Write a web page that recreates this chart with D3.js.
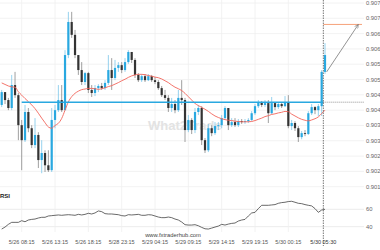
<!DOCTYPE html>
<html>
<head>
<meta charset="utf-8">
<script src="https://cdn.jsdelivr.net/npm/d3@7"></script>
<style>
  body { margin: 0; background: #fff; }
  svg { display: block; font-family: "Liberation Sans", Arial, sans-serif; }
</style>
</head>
<body>
<svg width="380" height="250"></svg>
<script>
// datos (velas de 30 min)
const firstOpen = 0.90367;
const closes = [0.90409,0.90383,0.90357,0.90432,0.90399,0.90301,0.90252,0.90344,0.90291,0.90236,
  0.90269,0.90187,0.90210,0.90170,0.90154,0.90318,0.90350,0.90383,0.90350,0.90530,
  0.90638,0.90596,0.90530,0.90481,0.90442,0.90471,0.90416,0.90406,0.90422,0.90429,
  0.90422,0.90439,0.90481,0.90455,0.90488,0.90497,0.90481,0.90507,0.90540,0.90514,
  0.90465,0.90448,0.90461,0.90448,0.90461,0.90448,0.90442,0.90422,0.90399,0.90390,
  0.90357,0.90370,0.90350,0.90390,0.90383,0.90285,0.90318,0.90285,0.90344,0.90357,
  0.90252,0.90219,0.90291,0.90275,0.90298,0.90301,0.90324,0.90357,0.90301,0.90311,
  0.90301,0.90314,0.90311,0.90314,0.90318,0.90340,0.90363,0.90376,0.90367,0.90373,
  0.90340,0.90373,0.90360,0.90370,0.90363,0.90376,0.90298,0.90308,0.90291,0.90262,
  0.90275,0.90272,0.90340,0.90360,0.90350,0.90363,0.90475,0.90530];
const highs = [0.90416,0.90409,0.90390,0.90465,0.90475,0.90406,0.90318,0.90367,0.90357,0.90301,
  0.90324,0.90278,0.90252,0.90219,0.90219,0.90357,0.90367,0.90432,0.90432,0.90546,
  0.90671,0.90671,0.90612,0.90530,0.90507,0.90475,0.90475,0.90432,0.90432,0.90435,
  0.90439,0.90448,0.90530,0.90520,0.90514,0.90507,0.90507,0.90520,0.90546,0.90540,
  0.90520,0.90471,0.90468,0.90468,0.90468,0.90465,0.90458,0.90448,0.90429,0.90416,
  0.90399,0.90390,0.90383,0.90416,0.90448,0.90390,0.90334,0.90324,0.90357,0.90367,
  0.90363,0.90259,0.90305,0.90301,0.90311,0.90311,0.90334,0.90363,0.90357,0.90324,
  0.90324,0.90321,0.90321,0.90321,0.90324,0.90347,0.90370,0.90383,0.90380,0.90383,
  0.90383,0.90393,0.90376,0.90376,0.90376,0.90396,0.90399,0.90318,0.90314,0.90298,
  0.90282,0.90285,0.90347,0.90370,0.90363,0.90370,0.90481,0.90569];
const lows = [0.90360,0.90370,0.90350,0.90350,0.90390,0.90252,0.90154,0.90246,0.90278,0.90226,
  0.90226,0.90161,0.90144,0.90148,0.90148,0.90148,0.90291,0.90344,0.90344,0.90350,
  0.90520,0.90586,0.90520,0.90465,0.90432,0.90432,0.90406,0.90393,0.90396,0.90409,
  0.90416,0.90416,0.90432,0.90416,0.90448,0.90475,0.90471,0.90475,0.90501,0.90504,
  0.90455,0.90442,0.90442,0.90442,0.90445,0.90442,0.90435,0.90416,0.90393,0.90383,
  0.90344,0.90344,0.90340,0.90344,0.90367,0.90246,0.90278,0.90272,0.90275,0.90334,
  0.90236,0.90210,0.90213,0.90265,0.90269,0.90285,0.90291,0.90318,0.90285,0.90295,
  0.90295,0.90295,0.90305,0.90305,0.90308,0.90314,0.90334,0.90357,0.90360,0.90360,
  0.90308,0.90337,0.90350,0.90354,0.90357,0.90360,0.90291,0.90285,0.90282,0.90246,
  0.90255,0.90265,0.90269,0.90334,0.90337,0.90331,0.90331,0.90468];
// media movil (linea roja)
const maValues = [0.90439,0.90434,0.90429,0.90426,0.90425,0.90410,0.90399,0.90388,0.90378,0.90367,
  0.90355,0.90340,0.90324,0.90309,0.90295,0.90291,0.90300,0.90307,0.90323,0.90350,
  0.90377,0.90394,0.90405,0.90412,0.90417,0.90419,0.90421,0.90421,0.90420,0.90418,
  0.90420,0.90423,0.90427,0.90430,0.90435,0.90440,0.90446,0.90451,0.90457,0.90462,
  0.90465,0.90467,0.90467,0.90466,0.90463,0.90461,0.90458,0.90456,0.90452,0.90446,
  0.90440,0.90432,0.90425,0.90420,0.90414,0.90405,0.90394,0.90383,0.90372,0.90365,
  0.90359,0.90353,0.90346,0.90338,0.90331,0.90326,0.90322,0.90319,0.90317,0.90316,
  0.90314,0.90313,0.90312,0.90312,0.90312,0.90313,0.90316,0.90320,0.90324,0.90329,
  0.90332,0.90336,0.90338,0.90341,0.90343,0.90346,0.90345,0.90337,0.90331,0.90325,
  0.90320,0.90317,0.90315,0.90318,0.90322,0.90328,0.90339,0.90350];
const rsiValues = [37.3,39.6,42.7,45,45,45,46.9,45.7,47.7,48.4,
  48.8,50,50.8,50.8,52.3,52.7,53.1,53.5,53.1,53.5,
  53.8,53.5,53.1,54.2,53.5,54.2,55.4,54.6,55.8,58.1,
  57.3,55,54.6,54.6,54.2,53.8,52.7,52.3,53.8,53.5,
  53.8,54.2,53.1,53.1,53.8,53.5,52.3,51.1,50.4,50.4,
  51.1,50.4,48.8,47.7,45.4,42.3,41.9,41.9,42.3,41.1,
  39.2,37.6,37.3,38.4,39.6,40.7,42.7,41.9,43,43.8,
  44.2,46.5,47.7,48.4,52.3,55.8,56.5,60.8,64.6,64.6,
  64.6,65,65.4,66.9,67.7,68.1,68.9,69.2,68.1,66.9,
  66.5,65.4,64.6,63.9,60.8,56.5,59.2,60];

const priceTicks = [0.9070,0.9065,0.9060,0.9055,0.9050,0.9045,0.9040,0.9035,0.9030,0.9025,0.9020,0.9015,0.9010];
const priceLabels = ["0.907","0.907","0.906","0.906","0.905","0.905","0.904","0.904","0.903","0.903","0.902","0.902","0.901"];
const rsiTicks = [60, 40];
const timeIdx = [6,16,26,36,46,56,66,76,86];
const timeLabels = ["5/26 08:15","5/26 13:15","5/26 18:15","5/28 23:15","5/29 04:15","5/29 09:15","5/29 14:15","5/29 19:15","5/30 00:15"];
const nowIdx = 96.5, nowLabel = "5/30 05:30";
const levelPrice = 0.90376, levelStart = 6;
const targetPrice = 0.90630, arrowFrom = [97.5, 0.90475], arrowTo = [107, 0.90630];

const svg = d3.select("svg");
const x = d3.scaleLinear().domain([0, closes.length - 1]).range([1.7, 325]);
const y = d3.scaleLinear().domain([0.9010, 0.9070]).range([186.7, 3]);
const yR = d3.scaleLinear().domain([40, 60]).range([226.7, 209.3]);
const gridRight = 364, labelX = 366;

// rejilla
svg.append("g").selectAll("line").data(priceTicks).enter().append("line")
  .attr("x1", 0).attr("x2", gridRight)
  .attr("y1", d => y(d)).attr("y2", d => y(d))
  .attr("stroke", "#efefef").attr("stroke-width", 0.8);
svg.append("g").selectAll("line").data(rsiTicks).enter().append("line")
  .attr("x1", 0).attr("x2", gridRight)
  .attr("y1", d => yR(d)).attr("y2", d => yR(d))
  .attr("stroke", "#e6e6e6").attr("stroke-width", 0.8);
svg.append("g").selectAll("line").data(timeIdx).enter().append("line")
  .attr("x1", d => x(d)).attr("x2", d => x(d))
  .attr("y1", 0).attr("y2", 232)
  .attr("stroke", "#efefef").attr("stroke-width", 0.8);

// marca de agua
svg.append("text").attr("x", 148).attr("y", 130)
  .attr("font-size", 13).attr("font-weight", "bold")
  .attr("fill", "#e3e3e3").text("What2Trade");

// velas
const candles = closes.map((c, i) => ({
  i: i, o: i === 0 ? firstOpen : closes[i - 1], c: c, h: highs[i], l: lows[i]
}));
const up = "#29a8e0", down = "#333";
let g = svg.append("g");
g.selectAll("line").data(candles).enter().append("line")
  .attr("x1", d => x(d.i)).attr("x2", d => x(d.i))
  .attr("y1", d => y(d.h)).attr("y2", d => y(d.l))
  .attr("stroke", d => d.c >= d.o ? "#7cc6ea" : "#888").attr("stroke-width", 0.8);
g.selectAll("rect").data(candles).enter().append("rect")
  .attr("x", d => x(d.i) - 1.1).attr("width", 2.2)
  .attr("y", d => y(Math.max(d.o, d.c)))
  .attr("height", d => Math.max(0.6, Math.abs(y(d.o) - y(d.c))))
  .attr("fill", d => d.c >= d.o ? up : down);

// media movil
svg.append("path").datum(maValues)
  .attr("fill", "none").attr("stroke", "#f2645a").attr("stroke-width", 0.9)
  .attr("d", d3.line().x((d, i) => x(i)).y(d => y(d)).curve(d3.curveMonotoneX));

// nivel horizontal
svg.append("line")
  .attr("x1", x(levelStart)).attr("x2", x(nowIdx))
  .attr("y1", y(levelPrice)).attr("y2", y(levelPrice))
  .attr("stroke", "#29a8e0").attr("stroke-width", 1.6);
svg.append("line")
  .attr("x1", x(nowIdx)).attr("x2", gridRight)
  .attr("y1", y(levelPrice)).attr("y2", y(levelPrice))
  .attr("stroke", "#666").attr("stroke-width", 0.7).attr("stroke-dasharray", "1,1");

// objetivo y flecha
svg.append("line")
  .attr("x1", x(nowIdx)).attr("x2", 362)
  .attr("y1", y(targetPrice)).attr("y2", y(targetPrice))
  .attr("stroke", "#f6a27a").attr("stroke-width", 1);
svg.append("defs").append("marker")
  .attr("id", "ah").attr("viewBox", "0 0 10 10").attr("refX", 9).attr("refY", 5)
  .attr("markerWidth", 6).attr("markerHeight", 6).attr("orient", "auto")
  .append("path").attr("d", "M1,1 L9,5 L1,9").attr("fill", "none")
  .attr("stroke", "#777").attr("stroke-width", 1.2);
svg.append("line")
  .attr("x1", x(arrowFrom[0])).attr("y1", y(arrowFrom[1]))
  .attr("x2", x(arrowTo[0])).attr("y2", y(arrowTo[1]))
  .attr("stroke", "#777").attr("stroke-width", 0.8).attr("marker-end", "url(#ah)");

// linea vertical actual
svg.append("line")
  .attr("x1", x(nowIdx)).attr("x2", x(nowIdx)).attr("y1", 0).attr("y2", 246)
  .attr("stroke", "#555").attr("stroke-width", 0.8).attr("stroke-dasharray", "1.5,1");

// RSI
svg.append("path").datum(rsiValues)
  .attr("fill", "none").attr("stroke", "#444").attr("stroke-width", 0.8)
  .attr("d", d3.line().x((d, i) => x(i)).y(d => yR(d)));
svg.append("text").attr("x", 0).attr("y", 198)
  .attr("font-size", 6).attr("font-weight", "bold").attr("fill", "#222").text("RSI");

// etiquetas
svg.append("g").selectAll("text").data(priceTicks).enter().append("text")
  .attr("x", labelX).attr("y", d => y(d) + 2)
  .attr("font-size", 5.8).attr("fill", "#666")
  .text((d, i) => priceLabels[i]);
svg.append("g").selectAll("text").data(rsiTicks).enter().append("text")
  .attr("x", labelX).attr("y", d => yR(d) + 2)
  .attr("font-size", 5.8).attr("fill", "#666").text(d => d);
svg.append("g").selectAll("text").data(timeIdx).enter().append("text")
  .attr("x", d => x(d)).attr("y", 244).attr("text-anchor", "middle")
  .attr("font-size", 5.5).attr("fill", "#555")
  .text((d, i) => timeLabels[i]);
svg.append("text").attr("x", x(nowIdx)).attr("y", 244).attr("text-anchor", "middle")
  .attr("font-size", 5.5).attr("fill", "#333").text(nowLabel);
svg.append("text").attr("x", 173).attr("y", 237).attr("text-anchor", "middle")
  .attr("font-size", 5.8).attr("fill", "#444").text("www.fxtraderhub.com");
</script>
</body>
</html>
